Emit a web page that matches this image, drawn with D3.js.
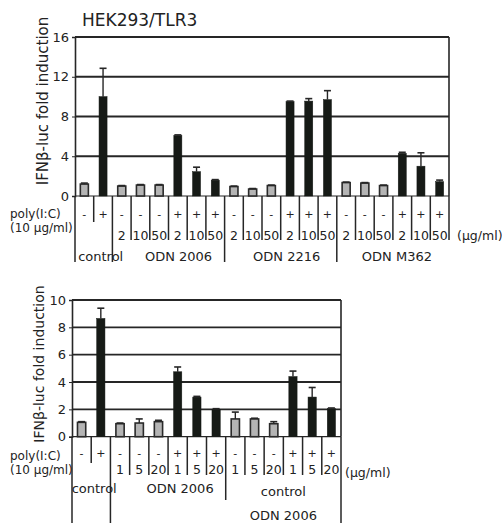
<!DOCTYPE html>
<html>
<head>
<meta charset="utf-8">
<script src="https://cdn.jsdelivr.net/npm/d3@7"></script>
<style>
  body { margin: 0; background: #fff; }
  text { font-family: "DejaVu Sans", "Liberation Sans", sans-serif; fill: #222; }
</style>
</head>
<body>
<svg id="fig" width="502" height="523"></svg>
<script>
// ---- Upper panel: HEK293/TLR3, poly(I:C) with ODN 2006 / 2216 / M362 ----
const topPoly  = ["-", "+", "-", "-", "-", "+", "+", "+", "-", "-", "-", "+", "+", "+", "-", "-", "-", "+", "+", "+"];
const topDose  = ["", "", "2", "10", "50", "2", "10", "50", "2", "10", "50", "2", "10", "50", "2", "10", "50", "2", "10", "50"];
const topMeans = [1.2, 10.0, 1.0, 1.1, 1.1, 6.1, 2.45, 1.6, 0.95, 0.7, 1.05, 9.5, 9.55, 9.7, 1.35, 1.3, 1.05, 4.3, 3.0, 1.45];
const topSd    = [0.1, 2.85, 0.05, 0.05, 0.05, 0.05, 0.45, 0.05, 0.05, 0.05, 0.05, 0.05, 0.25, 0.9, 0.05, 0.05, 0.05, 0.1, 1.35, 0.15];
const topGroups     = [["control"], ["ODN 2006"], ["ODN 2216"], ["ODN M362"]];
const topGroupSizes = [2, 6, 6, 6];
const topTicks = [0, 4, 8, 12, 16];

// ---- Lower panel: poly(I:C) with ODN 2006 and control ODN 2006 ----
const bottomPoly  = ["-", "+", "-", "-", "-", "+", "+", "+", "-", "-", "-", "+", "+", "+"];
const bottomDose  = ["", "", "1", "5", "20", "1", "5", "20", "1", "5", "20", "1", "5", "20"];
const bottomMeans = [1.05, 8.65, 0.95, 1.0, 1.1, 4.75, 2.9, 2.0, 1.3, 1.3, 0.95, 4.4, 2.9, 2.05];
const bottomSd    = [0.05, 0.75, 0.05, 0.3, 0.1, 0.35, 0.05, 0.05, 0.5, 0.05, 0.15, 0.4, 0.7, 0.05];
const bottomGroups     = [["control"], ["ODN 2006"], ["control", "ODN 2006"]];
const bottomGroupSizes = [2, 6, 6];
const bottomTicks = [0, 2, 4, 6, 8, 10];

const yTitle = "IFNβ-luc fold induction";
const unitLabel = "(μg/ml)";

const ink = "#262626";
const darkFill = "#161a16";
const greyFill = "#b4b4b4";

const svg = d3.select("#fig");

function drawPanel(p) {
  const n = p.means.length;
  const g = svg.append("g");

  const x = d3.scaleBand().domain(d3.range(n)).range([p.left, p.right])
    .paddingInner(0.57).paddingOuter(0.285);
  const slot = d3.scaleBand().domain(d3.range(n)).range([p.left, p.right]);
  const y = d3.scaleLinear().domain([0, d3.max(p.ticks)]).range([p.base, p.top]);

  // horizontal gridlines (the top one closes the frame)
  g.selectAll("line.grid").data(p.ticks.filter(t => t > 0)).join("line")
    .attr("x1", p.left).attr("x2", p.right)
    .attr("y1", d => y(d)).attr("y2", d => y(d))
    .attr("stroke", ink).attr("stroke-width", 1.8);

  // right frame edge
  g.append("line")
    .attr("x1", p.right).attr("x2", p.right)
    .attr("y1", y(d3.max(p.ticks))).attr("y2", p.base)
    .attr("stroke", ink).attr("stroke-width", 1.6);

  // baseline
  g.append("line")
    .attr("x1", p.left).attr("x2", p.right)
    .attr("y1", p.base).attr("y2", p.base)
    .attr("stroke", ink).attr("stroke-width", 1.2);

  // y axis
  const ax = g.append("g").attr("transform", `translate(${p.left},0)`)
    .call(d3.axisLeft(y).tickValues(p.ticks).tickSize(3).tickPadding(3).tickFormat(d3.format("d")));
  ax.select(".domain").attr("stroke", ink).attr("stroke-width", 1.6);
  ax.selectAll(".tick line").attr("stroke", ink);
  ax.selectAll(".tick text").attr("fill", "#222").style("font-size", "13px")
    .style("font-family", '"DejaVu Sans", sans-serif');

  // y title
  g.append("text")
    .attr("transform", `translate(${p.yTitleX},${p.yTitleY}) rotate(-90)`)
    .attr("text-anchor", "middle").style("font-size", p.yTitleSize + "px")
    .text(yTitle);

  // bars
  const rows = d3.range(n).map(i => ({ i, v: p.means[i], sd: p.sd[i], on: p.poly[i] === "+" }));
  g.selectAll("rect.bar").data(rows).join("rect")
    .attr("x", d => x(d.i)).attr("width", x.bandwidth())
    .attr("y", d => y(d.v)).attr("height", d => y(0) - y(d.v))
    .attr("fill", d => d.on ? darkFill : greyFill)
    .attr("stroke", d => d.on ? darkFill : "#2a2a2a")
    .attr("stroke-width", d => d.on ? 0.5 : 1.6);

  // error bars (upper whisker only)
  const eb = g.selectAll("g.err").data(rows).join("g");
  eb.append("line")
    .attr("x1", d => x(d.i) + x.bandwidth() / 2).attr("x2", d => x(d.i) + x.bandwidth() / 2)
    .attr("y1", d => y(d.v)).attr("y2", d => y(d.v + d.sd))
    .attr("stroke", ink).attr("stroke-width", 1.4);
  eb.append("line")
    .attr("x1", d => x(d.i) + x.bandwidth() / 2 - 3.5).attr("x2", d => x(d.i) + x.bandwidth() / 2 + 3.5)
    .attr("y1", d => y(d.v + d.sd)).attr("y2", d => y(d.v + d.sd))
    .attr("stroke", ink).attr("stroke-width", 1.6);

  // table separators below the baseline
  const groupStarts = d3.cumsum([0, ...p.groupSizes]);
  const bounds = d3.range(n + 1).map(k => {
    const gi = groupStarts.indexOf(k);
    let end;
    if (gi >= 0) end = p.groupLineEnds[gi];
    else {
      const owner = d3.bisectRight(groupStarts, k) - 1;
      end = p.dose[groupStarts[owner]] === "" ? p.shortEnd : p.midEnd;
    }
    const xx = k === n ? p.right : slot(k);
    return { xx, end, top: k === 0 ? y(0) : p.base };
  });
  g.selectAll("line.sep").data(bounds).join("line")
    .attr("x1", d => d.xx).attr("x2", d => d.xx)
    .attr("y1", d => d.top).attr("y2", d => d.end)
    .attr("stroke", ink).attr("stroke-width", 1.5);

  // +/- row
  g.selectAll("text.pm").data(rows).join("text")
    .attr("x", d => slot(d.i) + slot.bandwidth() / 2).attr("y", p.pmY)
    .attr("text-anchor", "middle").style("font-size", "11px")
    .text(d => p.poly[d.i]);

  // dose row
  g.selectAll("text.dose").data(rows).join("text")
    .attr("x", d => slot(d.i) + slot.bandwidth() / 2).attr("y", p.doseY)
    .attr("text-anchor", "middle").style("font-size", "12.5px")
    .text(d => p.dose[d.i]);

  // row captions
  g.append("text").attr("x", p.captionX).attr("y", p.captionY).style("font-size", "12px").text("poly(I:C)");
  g.append("text").attr("x", p.captionX).attr("y", p.captionY + 13.5).style("font-size", "12px").text("(10 μg/ml)");
  g.append("text").attr("x", p.right + p.unitDx).attr("y", p.unitY).style("font-size", "12.5px").text(unitLabel);

  // group names
  p.groups.forEach((lines, gi) => {
    const x0 = slot(groupStarts[gi]);
    const x1 = groupStarts[gi + 1] === n ? p.right : slot(groupStarts[gi + 1]);
    const t = g.append("text").attr("text-anchor", "middle").style("font-size", "13px");
    lines.forEach((s, li) => {
      t.append("tspan").attr("x", (x0 + x1) / 2 + p.groupNudge[gi])
        .attr("y", p.groupY[lines.length - 1] + li * 24).text(s);
    });
  });

  if (p.title) {
    g.append("text").attr("x", p.left + 7).attr("y", p.top - 11)
      .style("font-size", "17px").text(p.title);
  }
}

drawPanel({
  title: "HEK293/TLR3",
  poly: topPoly, dose: topDose, means: topMeans, sd: topSd,
  groups: topGroups, groupSizes: topGroupSizes, ticks: topTicks,
  left: 75, right: 449, top: 37, base: 196,
  yTitleX: 48, yTitleY: 101, yTitleSize: 15,
  groupLineEnds: [262, 262, 262, 262, 240], shortEnd: 222, midEnd: 240,
  pmY: 218, doseY: 240, unitY: 240, unitDx: 8, captionX: 10, captionY: 218,
  groupY: [261], groupNudge: [7, 10, 6, 4]
});

drawPanel({
  title: null,
  poly: bottomPoly, dose: bottomDose, means: bottomMeans, sd: bottomSd,
  groups: bottomGroups, groupSizes: bottomGroupSizes, ticks: bottomTicks,
  left: 72, right: 341, top: 300, base: 436.7,
  yTitleX: 44, yTitleY: 364, yTitleSize: 14,
  groupLineEnds: [523, 523, 500, 523], shortEnd: 463, midEnd: 475,
  pmY: 457, doseY: 474, unitY: 477, unitDx: 4, captionX: 10, captionY: 460,
  groupY: [493, 496], groupNudge: [3, 12, 0]
});
</script>
</body>
</html>
